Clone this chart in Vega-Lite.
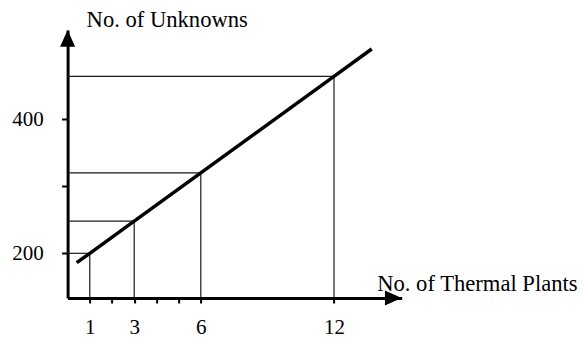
{
  "$schema": "https://vega.github.io/schema/vega-lite/v6.json",
  "width": 334.1,
  "height": 268,
  "autosize": {"type": "none"},
  "padding": {"left": 67.6, "top": 30, "right": 181.3, "bottom": 44},
  "background": "white",
  "config": {
    "view": {"stroke": null},
    "axis": {
      "grid": false,
      "domainColor": "black",
      "domainWidth": 3,
      "tickColor": "black",
      "tickWidth": 2,
      "labelFont": "Liberation Serif",
      "labelFontSize": 21,
      "labelColor": "black",
      "labelOverlap": false,
      "labelFlush": false,
      "titleFont": "Liberation Serif",
      "titleFontSize": 22.6,
      "titleFontWeight": "normal",
      "titleColor": "black",
      "titleAngle": 0
    }
  },
  "datasets": {
    "points": [
      {"plants": 1, "unknowns": 200},
      {"plants": 3, "unknowns": 248},
      {"plants": 6, "unknowns": 320},
      {"plants": 12, "unknowns": 464}
    ],
    "trend": [
      {"plants": 0.41, "unknowns": 186},
      {"plants": 1, "unknowns": 200},
      {"plants": 3, "unknowns": 248},
      {"plants": 6, "unknowns": 320},
      {"plants": 12, "unknowns": 464},
      {"plants": 13.7, "unknowns": 505}
    ],
    "arrows": [
      {"axis": "y", "px": 0, "py": 520.8},
      {"axis": "x", "px": 14.67, "py": 133.3}
    ]
  },
  "layer": [
    {
      "data": {"name": "points"},
      "mark": {"type": "rule", "color": "#1a1a1a", "strokeWidth": 1.2},
      "encoding": {
        "x": {"field": "plants", "type": "quantitative", "scale": {"domain": [0, 15.05], "nice": false, "zero": false}},
        "x2": {"datum": 0},
        "y": {"field": "unknowns", "type": "quantitative", "scale": {"domain": [133.3, 533.3], "nice": false, "zero": false}}
      }
    },
    {
      "data": {"name": "points"},
      "mark": {"type": "rule", "color": "#1a1a1a", "strokeWidth": 1.2},
      "encoding": {
        "x": {"field": "plants", "type": "quantitative"},
        "y": {"field": "unknowns", "type": "quantitative"},
        "y2": {"datum": 133.3}
      }
    },
    {
      "data": {"name": "trend"},
      "mark": {"type": "line", "color": "black", "strokeWidth": 3.5, "strokeCap": "butt"},
      "encoding": {
        "x": {
          "field": "plants",
          "type": "quantitative",
          "axis": {
            "values": [1, 2, 3, 4, 5, 6, 12],
            "labelExpr": "datum.value == 2 || datum.value == 4 || datum.value == 5 ? '' : datum.label",
            "tickSize": 5,
            "labelPadding": 30.3,
            "labelBaseline": "alphabetic",
            "title": "No. of Thermal Plants",
            "titleX": 309.1,
            "titleY": -7.3,
            "titleAlign": "left",
            "titleBaseline": "alphabetic"
          }
        },
        "y": {
          "field": "unknowns",
          "type": "quantitative",
          "axis": {
            "values": [200, 300, 400],
            "labelExpr": "datum.value == 300 ? '' : datum.label",
            "tickSize": 6,
            "labelPadding": 18.3,
            "title": "No. of Unknowns",
            "titleX": 99.1,
            "titleY": -3.3,
            "titleAlign": "center",
            "titleBaseline": "alphabetic"
          }
        }
      }
    },
    {
      "data": {"name": "arrows"},
      "transform": [{"filter": "datum.axis == 'y'"}],
      "mark": {"type": "point", "filled": true, "color": "black", "opacity": 1, "shape": "M0,-1L0.9,1L-0.9,1Z", "size": 279, "strokeWidth": 0},
      "encoding": {
        "x": {"field": "px", "type": "quantitative"},
        "y": {"field": "py", "type": "quantitative"}
      }
    },
    {
      "data": {"name": "arrows"},
      "transform": [{"filter": "datum.axis == 'x'"}],
      "mark": {"type": "point", "filled": true, "color": "black", "opacity": 1, "shape": "M1,0L-1,-0.9L-1,0.9Z", "size": 279, "strokeWidth": 0},
      "encoding": {
        "x": {"field": "px", "type": "quantitative"},
        "y": {"field": "py", "type": "quantitative"}
      }
    }
  ]
}
